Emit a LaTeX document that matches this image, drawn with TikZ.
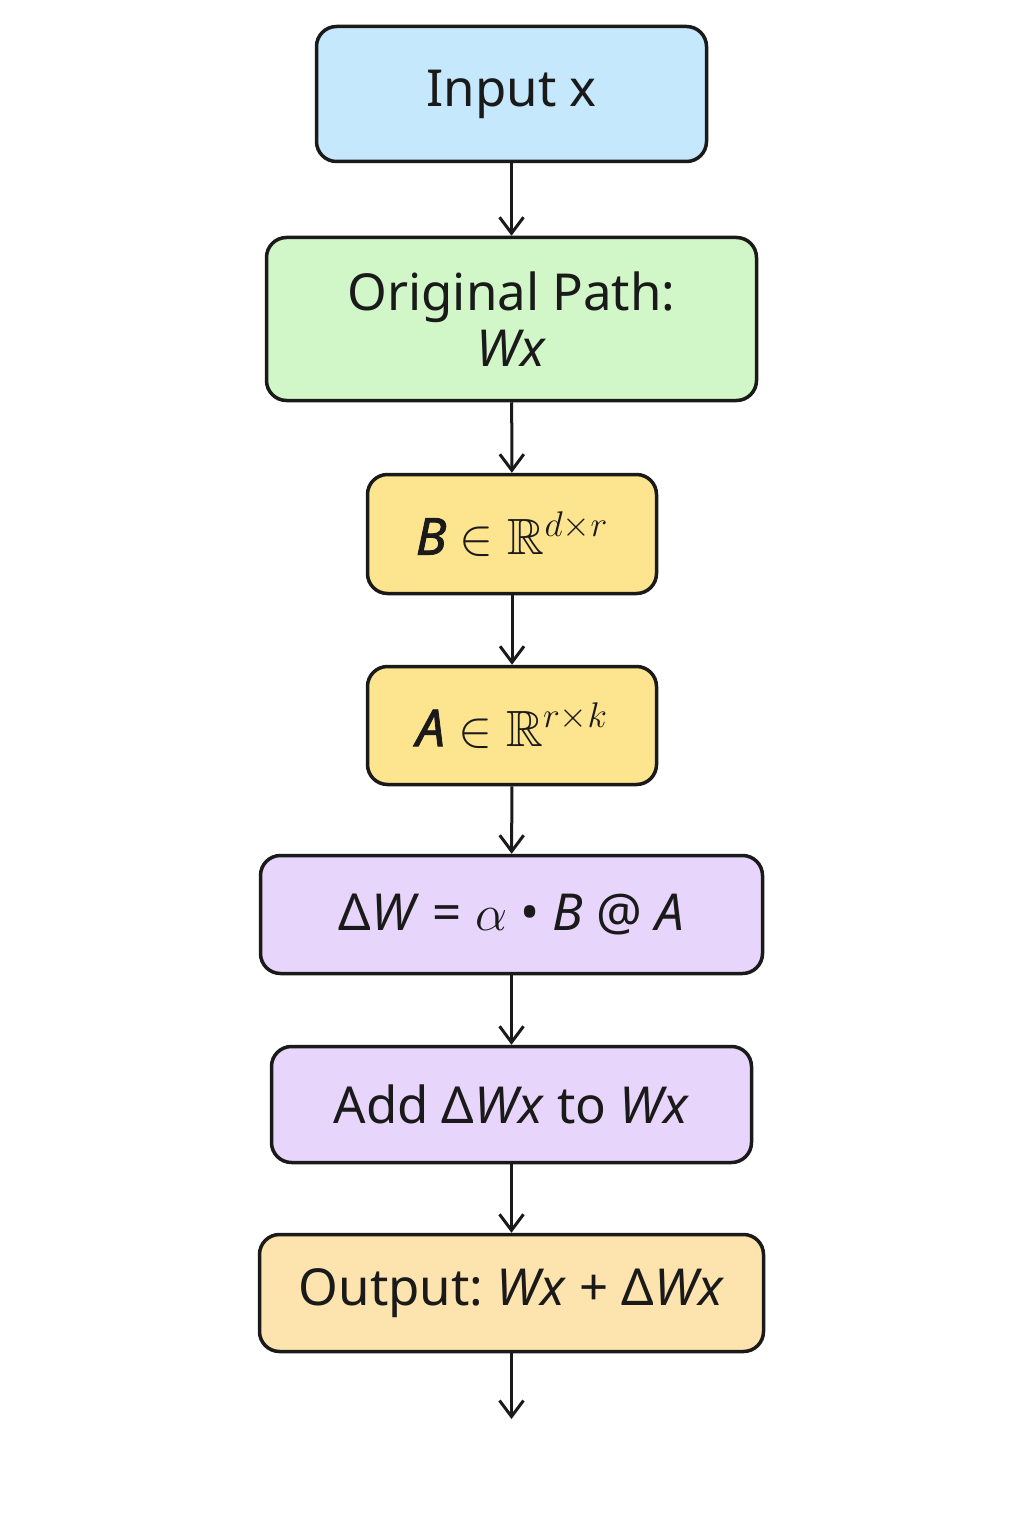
\RequirePackage{fix-cm}
\documentclass[tikz,border=0pt]{standalone}
\usepackage{amssymb}
\usepackage{amsmath}
\usepackage{fontspec}
\setmainfont{Noto Sans}
\newfontfamily\matfont{Noto Sans}[ItalicFeatures={FakeBold=1.6}]
\frenchspacing
\usetikzlibrary{arrows.meta}
\definecolor{inblue}{HTML}{C5E8FC}
\definecolor{pathgreen}{HTML}{D1F6C8}
\definecolor{lowyellow}{HTML}{FDE48F}
\definecolor{deltapurple}{HTML}{E8D5FC}
\definecolor{outorange}{HTML}{FDE3AD}
\definecolor{ink}{HTML}{1A1A1A}
\newcommand{\matname}[1]{{\matfont\itshape #1}}
\tikzset{every node/.style={font=\fontsize{29}{32}\selectfont, text=ink},
  stagebox/.style={draw=ink, line width=0.07cm, rounded corners=0.4cm,
    align=center, inner sep=0pt},
  flow/.style={draw=ink, line width=0.06cm,
    -{Straight Barb[length=0.32cm,width=0.48cm,line width=0.06cm]}}}

\begin{document}
\begin{tikzpicture}
  \useasboundingbox (0,0) rectangle (20.48,-30.72);
  \node[stagebox, fill=inblue, minimum width=7.8cm, minimum height=2.7cm]
    (inp) at (10.23,-1.88) {Input x};
  \node[stagebox, fill=pathgreen, minimum width=9.8cm, minimum height=3.26cm]
    (orig) at (10.23,-6.38) {Original Path:\\ \textit{Wx}};
  \node[stagebox, fill=lowyellow, minimum width=5.78cm, minimum height=2.38cm]
    (bmat) at (10.24,-10.68) {\matname{B} $\in\mathbb{R}^{d\times r}$};
  \node[stagebox, fill=lowyellow, minimum width=5.78cm, minimum height=2.36cm]
    (amat) at (10.24,-14.51) {\matname{A} $\in\mathbb{R}^{r\times k}$};
  \node[stagebox, fill=deltapurple, minimum width=10.04cm, minimum height=2.36cm]
    (delta) at (10.23,-18.29) {Δ\textit{W} = $\alpha$ • \textit{B} @ \textit{A}};
  \node[stagebox, fill=deltapurple, minimum width=9.6cm, minimum height=2.32cm]
    (addp) at (10.23,-22.09) {Add Δ\textit{Wx} to \textit{Wx}};
  \node[stagebox, fill=outorange, minimum width=10.08cm, minimum height=2.34cm]
    (outp) at (10.23,-25.86) {Output: \textit{Wx} + Δ\textit{Wx}};
  \coordinate (tail) at (10.23,-28.38);
  \foreach \a/\b in {inp/orig, orig/bmat, bmat/amat, amat/delta, delta/addp, addp/outp}
    \draw[flow] (\a) -- (\b);
  \draw[flow] (outp) -- (tail);
\end{tikzpicture}
\end{document}
